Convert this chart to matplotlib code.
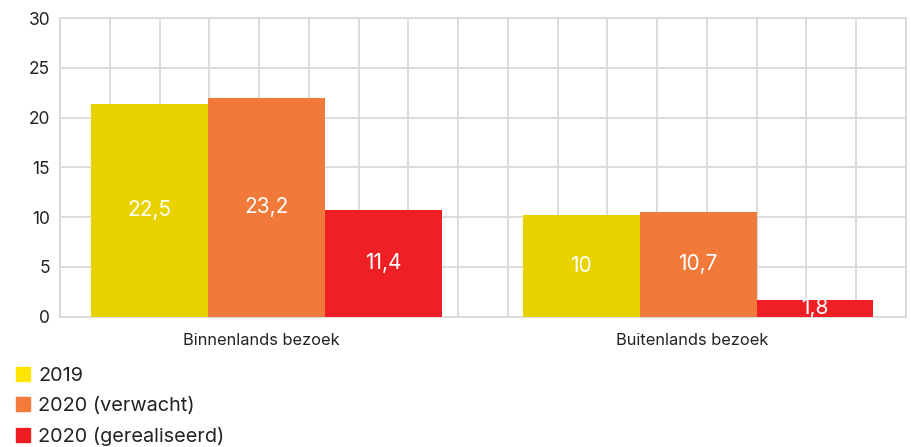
import matplotlib.pyplot as plt
import numpy as np
from matplotlib.lines import Line2D

plt.rcParams["font.family"] = ["Inter", "DejaVu Sans"]

categories = ["Binnenlands bezoek", "Buitenlands bezoek"]
series = ["2019", "2020 (verwacht)", "2020 (gerealiseerd)"]
# printed values (labels) and bar heights as drawn in the picture
values_2019 = [22.5, 10.0]
values_2020_exp = [23.2, 10.7]
values_2020_real = [11.4, 1.8]
heights_2019 = [21.35, 10.17]
heights_2020_exp = [21.95, 10.47]
heights_2020_real = [10.67, 1.71]
yticks = [0, 5, 10, 15, 20, 25, 30]

colors = ["#E8D200", "#F17A3B", "#EE1F25"]
legend_colors = ["#FFE500", "#F47B3B", "#EE1D24"]
grid_color = "#D9D9D9"
text_color = "#222222"

fig = plt.figure(figsize=(9.12, 4.47), dpi=100)
ax = fig.add_axes([0.0658, 0.2919, 0.9276, 0.6678])

x = np.arange(len(categories))
width = 0.271
all_heights = [heights_2019, heights_2020_exp, heights_2020_real]
all_values = [values_2019, values_2020_exp, values_2020_real]
for i, (h, v) in enumerate(zip(all_heights, all_values)):
    bars = ax.bar(x + (i - 1) * width, h, width, color=colors[i], zorder=3)
    labels = [("%g" % val).replace(".", ",") for val in v]
    ax.bar_label(bars, labels=labels, label_type="center",
                 color="white", fontsize=15)

ax.set_xlim(-0.479, 1.482)
ax.set_ylim(0, 30)
ax.set_yticks(yticks)
ax.set_xticks(x - 0.013)
ax.set_xticklabels(categories)
ax.set_xticks(np.linspace(-0.479, 1.482, 18), minor=True)
ax.grid(True, axis="y", color=grid_color, lw=1.3, zorder=0)
ax.grid(True, axis="x", which="minor", color=grid_color, lw=1.3, zorder=0)
ax.set_axisbelow(True)
for s in ax.spines.values():
    s.set_color(grid_color)
    s.set_linewidth(1.3)
ax.tick_params(axis="y", length=0, pad=7, labelsize=12.5, colors=text_color)
ax.tick_params(axis="x", which="major", length=0, pad=12, labelsize=11.8,
               colors=text_color)
ax.tick_params(axis="x", which="minor", length=0)

handles = [Line2D([], [], marker="s", linestyle="none", markersize=9.5,
                  color=c) for c in legend_colors]
fig.legend(handles, series, loc="upper left", bbox_to_anchor=(0.004, 0.201),
           frameon=False, fontsize=14.3, handlelength=0.98, handletextpad=0.25,
           labelspacing=0.6, borderpad=0, labelcolor=text_color)

fig.savefig("out.png", dpi=100)
